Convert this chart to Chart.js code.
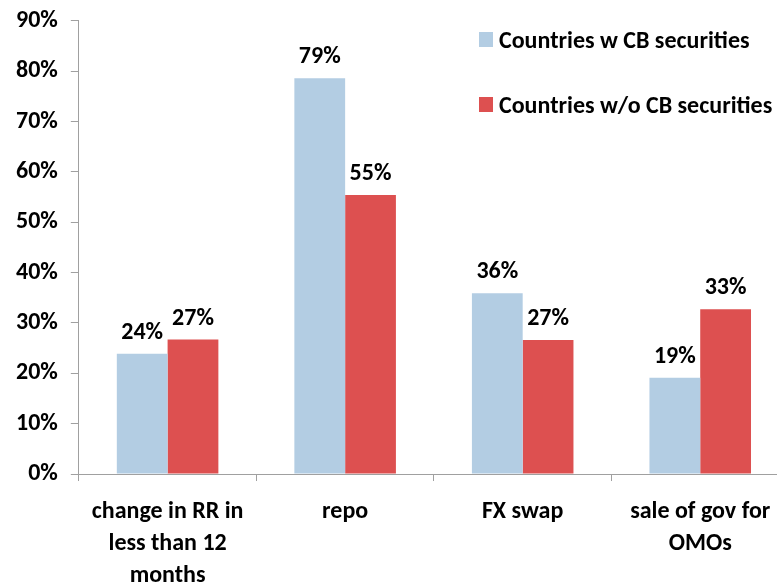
<!DOCTYPE html>
<html>
<head>
<meta charset="utf-8">
<script src="https://cdn.jsdelivr.net/npm/chart.js@4/dist/chart.umd.min.js"></script>
<style>
  html, body { margin: 0; padding: 0; background: #fff; overflow: hidden; }
  #wrap { position: relative; width: 792px; height: 607px; }
  #legend { position: absolute; left: 479px; top: 29px; font: bold 24px Calibri, Carlito, "Liberation Sans", sans-serif; color: #000; }
  #legend .item { display: flex; align-items: center; height: 20px; margin-bottom: 45px; white-space: nowrap; }
  #legend .sw { width: 14px; height: 15px; margin-right: 6px; }
</style>
</head>
<body>
<div id="wrap">
  <canvas id="chart" width="792" height="607"></canvas>
  <div id="legend"></div>
</div>
<script>
'use strict';

// ── DATA ─────────────────────────────────────────────────────────────────────
const categories = [
  ['change in RR in', 'less than 12', 'months'],
  'repo',
  'FX swap',
  ['sale of gov for', 'OMOs'],
];
const seriesNames = ['Countries w CB securities', 'Countries w/o CB securities'];
const withCB    = [23.9, 78.6, 35.9, 19.1];
const withoutCB = [26.7, 55.4, 26.6, 32.7];
const yTicks    = [0, 10, 20, 30, 40, 50, 60, 70, 80, 90];

const COLORS = ['#B3CDE3', '#DD5050'];
const FONT = 'Calibri, Carlito, "Liberation Sans", sans-serif';

// value labels above each bar
const barLabels = {
  id: 'barLabels',
  afterDatasetsDraw(chart) {
    const ctx = chart.ctx;
    ctx.save();
    ctx.font = 'bold 24px ' + FONT;
    ctx.fillStyle = '#000';
    ctx.textAlign = 'center';
    ctx.textBaseline = 'bottom';
    chart.data.datasets.forEach((ds, i) => {
      chart.getDatasetMeta(i).data.forEach((bar, j) => {
        ctx.fillText(Math.round(ds.data[j]) + '%', bar.x, bar.y - 9);
      });
    });
    ctx.restore();
  },
};

new Chart(document.getElementById('chart'), {
  type: 'bar',
  data: {
    labels: categories,
    datasets: [
      { label: seriesNames[0], data: withCB, backgroundColor: COLORS[0] },
      { label: seriesNames[1], data: withoutCB, backgroundColor: COLORS[1] },
    ],
  },
  options: {
    responsive: false,
    animation: false,
    layout: { padding: { top: 1, right: 3, left: 3, bottom: 0 } },
    datasets: { bar: { categoryPercentage: 0.572, barPercentage: 1.0, borderWidth: 0 } },
    plugins: { legend: { display: false }, tooltip: { enabled: false } },
    scales: {
      x: {
        border: { display: true, color: '#A0A0A0', width: 1 },
        grid: { display: true, drawOnChartArea: false, drawTicks: true, tickLength: 7, color: '#A0A0A0', offset: true },
        ticks: { color: '#000', font: { family: FONT, size: 24, weight: 'bold', lineHeight: 1.333 }, padding: 15, maxRotation: 0, autoSkip: false },
      },
      y: {
        min: 0, max: 90,
        afterBuildTicks: (axis) => { axis.ticks = yTicks.map(v => ({ value: v })); },
        border: { display: true, color: '#A0A0A0', width: 1 },
        grid: { display: true, drawOnChartArea: false, drawTicks: true, tickLength: 8, color: '#A0A0A0' },
        ticks: { color: '#000', font: { family: FONT, size: 24, weight: 'bold', lineHeight: 0.65 }, padding: 13, callback: v => v + '%' },
      },
    },
  },
  plugins: [barLabels],
});

// legend drawn as HTML text
const legend = document.getElementById('legend');
seriesNames.forEach((name, i) => {
  const item = document.createElement('div');
  item.className = 'item';
  item.innerHTML = '<span class="sw" style="background:' + COLORS[i] + '"></span><span>' + name + '</span>';
  legend.appendChild(item);
});
</script>
</body>
</html>
